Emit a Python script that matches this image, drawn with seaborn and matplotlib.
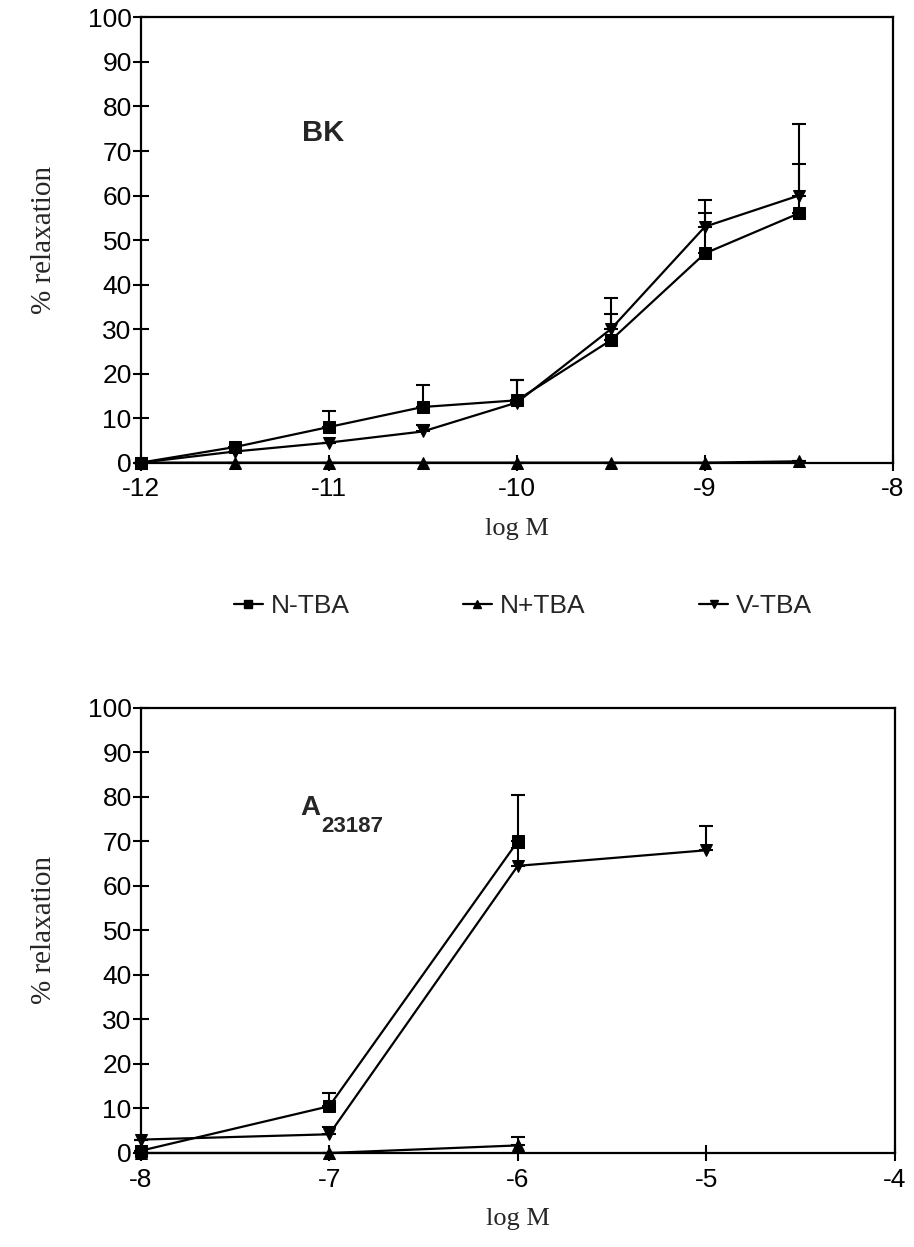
import numpy as np
import pandas as pd
import matplotlib
matplotlib.use("Agg")
import matplotlib.pyplot as plt
import seaborn as sns

# --- data ---
bk_x = [-12, -11.5, -11, -10.5, -10, -9.5, -9, -8.5]
bk_n_minus = [0, 3.5, 8, 12.5, 14, 27.5, 47, 56]
bk_n_minus_err = [0, 0, 3.5, 5, 4.5, 6, 9, 11]
bk_n_plus = [0, 0, 0, 0, 0, 0, 0, 0.3]
bk_n_plus_err = [0, 0, 0, 0, 0, 0, 0, 0]
bk_v_minus = [0, 2.5, 4.5, 7, 13.5, 30, 53, 60]
bk_v_minus_err = [0, 0, 0, 1.5, 5, 7, 6, 16]

a_x_n = [-8, -7, -6]
a_n_minus = [0.5, 10.5, 70]
a_n_minus_err = [0, 3, 10.5]
a_n_plus = [0, 0, 1.7]
a_n_plus_err = [0, 0, 2]
a_x_v = [-8, -7, -6, -5]
a_v_minus = [3, 4.2, 64.5, 68]
a_v_minus_err = [0, 1.7, 4, 5.5]

series_names = ["N-TBA", "N+TBA", "V-TBA"]
marker_map = {"N-TBA": "s", "N+TBA": "^", "V-TBA": "v"}

sns.set_theme(style="ticks")
plt.rcParams["font.family"] = ["Liberation Sans", "DejaVu Sans"]
plt.rcParams["axes.unicode_minus"] = False


def build_frame(groups):
    rows = []
    for name, xs, ys in groups:
        for x, y in zip(xs, ys):
            rows.append({"logM": x, "relax": y, "series": name})
    return pd.DataFrame(rows)


def style_axes(ax, xlim, xticks):
    ax.set_xlim(*xlim)
    ax.set_ylim(0, 100)
    ax.set_xticks(xticks)
    ax.set_yticks(range(0, 101, 10))
    ax.tick_params(direction="inout", length=11, width=1.5, labelsize=19,
                   colors="black")
    ax.tick_params(axis="y", pad=1)
    ax.tick_params(axis="x", pad=5)
    for sp in ax.spines.values():
        sp.set_visible(True)
        sp.set_linewidth(1.6)
        sp.set_color("black")
    ax.set_xlabel("log M", fontsize=19, family="Liberation Serif", labelpad=12)
    ax.set_ylabel("% relaxation", fontsize=21, family="Liberation Serif", labelpad=22)


def draw_panel(ax, groups, errs):
    df = build_frame(groups)
    sns.lineplot(data=df, x="logM", y="relax", hue="series", style="series",
                 hue_order=series_names, style_order=series_names,
                 palette=["black"] * 3, markers=marker_map, dashes=False,
                 markersize=8, linewidth=1.6, markeredgecolor="black",
                 legend=False, ax=ax, clip_on=False, zorder=3)
    for (name, xs, ys), e in zip(groups, errs):
        lo = np.zeros(len(e))
        ax.errorbar(xs, ys, yerr=[lo, e], fmt="none", ecolor="black",
                    elinewidth=1.5, capsize=5, capthick=1.5, clip_on=False, zorder=2)


fig = plt.figure(figsize=(9.14, 12.47), dpi=100)
ax1 = fig.add_axes([0.154, 0.629, 0.823, 0.357])
ax2 = fig.add_axes([0.154, 0.0754, 0.825, 0.357])

draw_panel(ax1,
           [("N-TBA", bk_x, bk_n_minus), ("N+TBA", bk_x, bk_n_plus), ("V-TBA", bk_x, bk_v_minus)],
           [bk_n_minus_err, bk_n_plus_err, bk_v_minus_err])
style_axes(ax1, (-12, -8), [-12, -11, -10, -9, -8])
ax1.text(-11.03, 74, "BK", fontsize=21, fontweight="bold", ha="center", va="center")

draw_panel(ax2,
           [("N-TBA", a_x_n, a_n_minus), ("N+TBA", a_x_n, a_n_plus), ("V-TBA", a_x_v, a_v_minus)],
           [a_n_minus_err, a_n_plus_err, a_v_minus_err])
style_axes(ax2, (-8, -4), [-8, -7, -6, -5, -4])
t = ax2.text(-7.1, 77.5, "A", fontsize=20, fontweight="bold", ha="center", va="center")
ax2.annotate("23187", xy=(1.02, 0.2), xycoords=t, fontsize=16, fontweight="bold",
             ha="left", va="top")

# shared legend between the panels
handles = [plt.Line2D([], [], color="black", marker=marker_map[n], markersize=6,
                      linewidth=1.6) for n in series_names]
fig.legend(handles, series_names, loc="center", bbox_to_anchor=(0.572, 0.514),
           ncol=3, frameon=False, fontsize=19, handlelength=1.1, handletextpad=0.3,
           columnspacing=4.3)

fig.savefig("out.png", dpi=100)
